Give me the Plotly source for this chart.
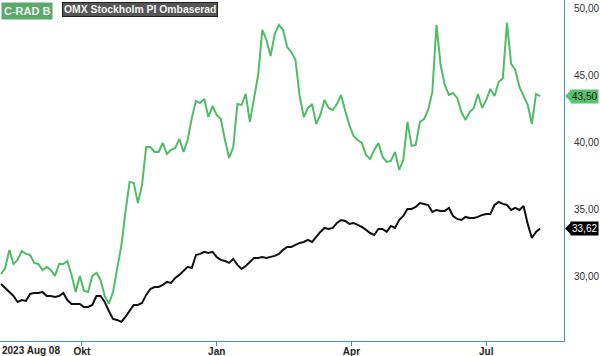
import pandas as pd
import plotly.graph_objects as go

# Every second trading day from 2023-08-08
dates = pd.bdate_range("2023-08-08", periods=131, freq="2B")

crad_b = [
    30.22, 30.67, 32.02, 30.97, 31.27, 31.94, 31.72, 31.64, 31.05, 30.97,
    30.52, 30.75, 30.52, 30.08, 30.97, 30.97, 31.19, 30.15, 28.88, 30.08,
    28.96, 28.88, 30.08, 30.30, 29.78, 28.58, 27.99, 28.88, 30.60, 32.31,
    34.85, 37.09, 37.02, 35.52, 36.87, 39.70, 39.70, 39.33, 39.33, 40.00,
    39.18, 39.48, 39.63, 40.30, 39.33, 40.22, 41.87, 43.13, 42.98, 43.28,
    41.94, 42.76, 42.09, 41.79, 40.22, 38.88, 39.70, 42.91, 42.84, 43.66,
    41.57, 43.43, 45.07, 48.43, 47.69, 46.49, 48.13, 48.81, 48.43, 47.16,
    46.79, 46.19, 43.51, 41.94, 42.61, 42.91, 41.42, 42.09, 43.21, 42.61,
    42.46, 42.91, 43.58, 42.39, 41.34, 40.52, 40.22, 40.00, 39.10, 38.81,
    39.48, 40.00, 38.96, 38.58, 38.66, 39.33, 37.99, 38.73, 41.57, 39.78,
    39.85, 41.57, 41.79, 42.46, 43.81, 48.81, 45.82, 44.33, 43.58, 43.73,
    43.36, 42.31, 41.72, 42.31, 42.61, 43.66, 42.61, 43.21, 44.03, 43.51,
    44.55, 44.85, 48.96, 45.90, 45.45, 44.18, 43.51, 42.84, 41.42, 43.66,
    43.50,
]

omx_rebased = [
    29.48, 29.18, 28.88, 28.58, 28.13, 28.28, 28.21, 28.73, 28.81, 28.81,
    28.88, 28.58, 28.58, 28.51, 28.58, 28.81, 28.28, 27.99, 27.99, 27.99,
    27.76, 27.76, 27.91, 28.58, 28.58, 28.13, 27.46, 26.87, 26.79, 26.64,
    27.02, 27.46, 27.91, 27.91, 28.06, 28.66, 29.10, 29.25, 29.25, 29.40,
    29.63, 29.55, 29.93, 30.15, 30.45, 30.75, 30.67, 31.64, 31.72, 31.87,
    31.79, 31.87, 31.49, 31.27, 31.19, 31.05, 31.34, 30.90, 30.60, 30.82,
    31.12, 31.42, 31.42, 31.49, 31.42, 31.49, 31.57, 31.72, 32.02, 32.24,
    32.24, 32.39, 32.54, 32.61, 32.76, 32.61, 32.99, 33.36, 33.66, 33.58,
    33.66, 34.03, 34.25, 34.18, 33.96, 34.03, 33.88, 33.73, 33.51, 33.28,
    33.14, 33.58, 33.58, 33.36, 33.81, 33.66, 34.25, 34.55, 35.08, 35.08,
    35.22, 35.52, 35.45, 35.37, 34.85, 35.00, 34.93, 34.93, 35.15, 34.55,
    34.33, 34.25, 34.48, 34.40, 34.40, 34.48, 34.63, 34.70, 34.70, 35.37,
    35.60, 35.45, 35.37, 35.00, 35.15, 35.00, 35.30, 33.96, 32.91, 33.36,
    33.62,
]

series_names = ["C-RAD B", "OMX Stockholm PI Ombaserad"]
y_ticks = [30, 35, 40, 45, 50]
x_tick_dates = ["2023-10-02", "2024-01-01", "2024-04-01", "2024-07-01"]
x_tick_labels = ["Okt", "Jan", "Apr", "Jul"]
start_label = "2023 Aug 08"

GREEN = "#4fbd66"
BLACK = "#111111"
AXIS = "#4a8fc2"
FONT = "Liberation Sans, Arial, sans-serif"

fig = go.Figure()
fig.add_trace(go.Scatter(x=dates, y=crad_b, mode="lines", name=series_names[0],
                         line=dict(color=GREEN, width=2)))
fig.add_trace(go.Scatter(x=dates, y=omx_rebased, mode="lines", name=series_names[1],
                         line=dict(color=BLACK, width=2)))

fig.update_layout(
    width=600, height=356,
    margin=dict(l=0, r=36, t=0, b=15),
    paper_bgcolor="white", plot_bgcolor="white",
    showlegend=False,
    separators=", ",
    font=dict(family=FONT, size=10, color="#222"),
)
fig.update_xaxes(
    type="date",
    range=["2023-08-07 12:00", "2024-08-21 12:00"],
    rangebreaks=[dict(bounds=["sat", "mon"])],
    showgrid=False, zeroline=False,
    showline=True, linecolor=AXIS, linewidth=1,
    ticks="outside", ticklen=4, tickcolor=AXIS,
    tickvals=x_tick_dates, ticktext=x_tick_labels,
    ticklabelstandoff=-3,
    tickfont=dict(family=FONT, size=10, color="#222", weight="bold"),
)
fig.update_yaxes(
    side="right",
    range=[25.22, 50.67],
    showgrid=False, zeroline=False,
    showline=True, linecolor=AXIS, linewidth=1,
    ticks="", tickvals=y_ticks, tickformat=".2f",
    ticklabelstandoff=7,
    tickfont=dict(family=FONT, size=10, color="#333"),
)

# start date label under the axis
fig.add_annotation(text=start_label, xref="paper", yref="paper", x=0, y=0,
                   xanchor="left", yanchor="top", yshift=-2, showarrow=False,
                   font=dict(family=FONT, size=10, color="#222", weight="bold"))

# legend badges
fig.add_annotation(text=series_names[0], xref="paper", yref="paper", x=0.002, y=1,
                   xanchor="left", yanchor="top", yshift=-2, showarrow=False,
                   bgcolor="#5aa96b", borderpad=2,
                   font=dict(family=FONT, size=11, color="#f2f2f2", weight="bold"))
fig.add_annotation(text=series_names[1], xref="paper", yref="paper", x=62 / 564, y=1,
                   xanchor="left", yanchor="top", yshift=-2, showarrow=False,
                   bgcolor="#555555", bordercolor="#222222", borderwidth=1, borderpad=1,
                   font=dict(family=FONT, size=10.4, color="#f2f2f2", weight="bold"))

# last-value tags on the right axis
px = 1 / 564
for vals, bg, fg in [(crad_b, "#55c46c", "#111"), (omx_rebased, "#000000", "#ffffff")]:
    last = vals[-1]
    fig.add_annotation(text=f"{last:.2f}".replace(".", ","), xref="paper", yref="y",
                       x=1 + 6 * px, y=last, xanchor="left", yanchor="middle",
                       showarrow=False, bgcolor=bg, borderpad=1,
                       font=dict(family=FONT, size=10, color=fg))
    fig.add_shape(type="path", xref="paper", yref="y",
                  path=f"M {1 + 1 * px},{last} L {1 + 7 * px},{last + 0.45} "
                       f"L {1 + 7 * px},{last - 0.45} Z",
                  fillcolor=bg, line=dict(width=0))

fig.write_html("out.html", config={"displayModeBar": False},
               post_script="document.body.style.margin='0';document.body.style.overflow='hidden';")
